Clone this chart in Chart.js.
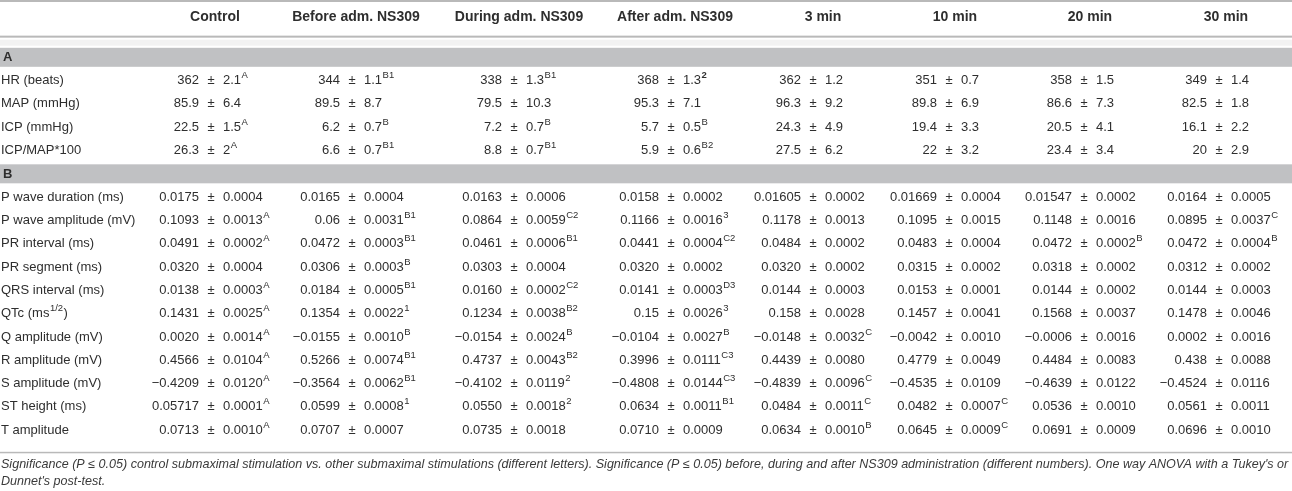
<!DOCTYPE html>
<html>
<head>
<meta charset="utf-8">
<script src="https://cdn.jsdelivr.net/npm/chart.js@4.4.1/dist/chart.umd.min.js"></script>
<style>
  html, body { margin: 0; padding: 0; background: #fff; }
  #wrap { width: 1292px; height: 491px; position: relative; }
</style>
</head>
<body>
<div id="wrap"><canvas id="tableChart"></canvas></div>
<script>
// column headers
const columns = ['Control', 'Before adm. NS309', 'During adm. NS309', 'After adm. NS309', '3 min', '10 min', '20 min', '30 min'];

// section A
const rowsA = ['HR (beats)', 'MAP (mmHg)', 'ICP (mmHg)', 'ICP/MAP*100'];
const meanA = [
  ['362', '344', '338', '368', '362', '351', '358', '349'],
  ['85.9', '89.5', '79.5', '95.3', '96.3', '89.8', '86.6', '82.5'],
  ['22.5', '6.2', '7.2', '5.7', '24.3', '19.4', '20.5', '16.1'],
  ['26.3', '6.6', '8.8', '5.9', '27.5', '22', '23.4', '20']
];
const semA = [
  ['2.1', '1.1', '1.3', '1.3', '1.2', '0.7', '1.5', '1.4'],
  ['6.4', '8.7', '10.3', '7.1', '9.2', '6.9', '7.3', '1.8'],
  ['1.5', '0.7', '0.7', '0.5', '4.9', '3.3', '4.1', '2.2'],
  ['2', '0.7', '0.7', '0.6', '6.2', '3.2', '3.4', '2.9']
];
// superscripts, a leading * means bold
const supA = [
  ['A', 'B1', 'B1', '*2', '', '', '', ''],
  ['', '', '', '', '', '', '', ''],
  ['A', 'B', 'B', 'B', '', '', '', ''],
  ['A', 'B1', 'B1', 'B2', '', '', '', '']
];

// section B
const rowsB = ['P wave duration (ms)', 'P wave amplitude (mV)', 'PR interval (ms)', 'PR segment (ms)',
  'QRS interval (ms)', 'QTc (ms^1/2)', 'Q amplitude (mV)', 'R amplitude (mV)', 'S amplitude (mV)',
  'ST height (ms)', 'T amplitude'];
const meanB = [
  ['0.0175', '0.0165', '0.0163', '0.0158', '0.01605', '0.01669', '0.01547', '0.0164'],
  ['0.1093', '0.06', '0.0864', '0.1166', '0.1178', '0.1095', '0.1148', '0.0895'],
  ['0.0491', '0.0472', '0.0461', '0.0441', '0.0484', '0.0483', '0.0472', '0.0472'],
  ['0.0320', '0.0306', '0.0303', '0.0320', '0.0320', '0.0315', '0.0318', '0.0312'],
  ['0.0138', '0.0184', '0.0160', '0.0141', '0.0144', '0.0153', '0.0144', '0.0144'],
  ['0.1431', '0.1354', '0.1234', '0.15', '0.158', '0.1457', '0.1568', '0.1478'],
  ['0.0020', '−0.0155', '−0.0154', '−0.0104', '−0.0148', '−0.0042', '−0.0006', '0.0002'],
  ['0.4566', '0.5266', '0.4737', '0.3996', '0.4439', '0.4779', '0.4484', '0.438'],
  ['−0.4209', '−0.3564', '−0.4102', '−0.4808', '−0.4839', '−0.4535', '−0.4639', '−0.4524'],
  ['0.05717', '0.0599', '0.0550', '0.0634', '0.0484', '0.0482', '0.0536', '0.0561'],
  ['0.0713', '0.0707', '0.0735', '0.0710', '0.0634', '0.0645', '0.0691', '0.0696']
];
const semB = [
  ['0.0004', '0.0004', '0.0006', '0.0002', '0.0002', '0.0004', '0.0002', '0.0005'],
  ['0.0013', '0.0031', '0.0059', '0.0016', '0.0013', '0.0015', '0.0016', '0.0037'],
  ['0.0002', '0.0003', '0.0006', '0.0004', '0.0002', '0.0004', '0.0002', '0.0004'],
  ['0.0004', '0.0003', '0.0004', '0.0002', '0.0002', '0.0002', '0.0002', '0.0002'],
  ['0.0003', '0.0005', '0.0002', '0.0003', '0.0003', '0.0001', '0.0002', '0.0003'],
  ['0.0025', '0.0022', '0.0038', '0.0026', '0.0028', '0.0041', '0.0037', '0.0046'],
  ['0.0014', '0.0010', '0.0024', '0.0027', '0.0032', '0.0010', '0.0016', '0.0016'],
  ['0.0104', '0.0074', '0.0043', '0.0111', '0.0080', '0.0049', '0.0083', '0.0088'],
  ['0.0120', '0.0062', '0.0119', '0.0144', '0.0096', '0.0109', '0.0122', '0.0116'],
  ['0.0001', '0.0008', '0.0018', '0.0011', '0.0011', '0.0007', '0.0010', '0.0011'],
  ['0.0010', '0.0007', '0.0018', '0.0009', '0.0010', '0.0009', '0.0009', '0.0010']
];
const supB = [
  ['', '', '', '', '', '', '', ''],
  ['A', 'B1', 'C2', '3', '', '', '', 'C'],
  ['A', 'B1', 'B1', 'C2', '', '', 'B', 'B'],
  ['', 'B', '', '', '', '', '', ''],
  ['A', 'B1', 'C2', 'D3', '', '', '', ''],
  ['A', '1', 'B2', '3', '', '', '', ''],
  ['A', 'B', 'B', 'B', 'C', '', '', ''],
  ['A', 'B1', 'B2', 'C3', '', '', '', ''],
  ['A', 'B1', '2', 'C3', 'C', '', '', ''],
  ['A', '1', '2', 'B1', 'C', 'C', '', ''],
  ['A', '', '', '', 'B', 'C', '', '']
];

const footnote = [
  "Significance (P ≤ 0.05) control submaximal stimulation vs. other submaximal stimulations (different letters). Significance (P ≤ 0.05) before, during and after NS309 administration (different numbers). One way ANOVA with a Tukey's or",
  "Dunnet's post-test."
];

// layout (pixels on the x scale)
const pmAnchor = [211, 352, 514, 671, 813, 949, 1084, 1219];
const headCenter = [215, 356, 519, 675, 823, 955, 1090, 1226];

const rowLabels = ['A', ...rowsA, 'B', ...rowsB];
const cells = [];
meanA.forEach((r, i) => r.forEach((m, c) => cells.push({ row: rowsA[i], col: c, mean: m, sem: semA[i][c], sup: supA[i][c] })));
meanB.forEach((r, i) => r.forEach((m, c) => cells.push({ row: rowsB[i], col: c, mean: m, sem: semB[i][c], sup: supB[i][c] })));

const FONT = '"Liberation Sans", Arial, sans-serif';
const TEXT = '#2e2e2e';
const RULE = '#b9b9b9';
const BAND = '#c0c1c3';

function drawSup(ctx, text, x, y) {
  let bold = false;
  if (text.startsWith('*')) { bold = true; text = text.slice(1); }
  ctx.font = (bold ? 'bold ' : '') + '9.5px ' + FONT;
  ctx.textAlign = 'left';
  ctx.fillText(text, x, y - 5);
}

const tablePlugin = {
  id: 'tablePlugin',
  beforeDraw(chart) {
    const { ctx, scales: { x, y } } = chart;
    const W = chart.width;
    ctx.save();
    ctx.fillStyle = '#fff';
    ctx.fillRect(0, 0, W, chart.height);
    // bands for the section rows
    ['A', 'B'].forEach(lbl => {
      const py = y.getPixelForValue(rowLabels.indexOf(lbl));
      ctx.fillStyle = BAND;
      ctx.fillRect(0, py - 9.5, W, 19);
    });
    // rules
    const top = chart.chartArea.top;
    ctx.fillStyle = RULE;
    ctx.fillRect(0, 0, W, 2);
    ctx.fillRect(0, top - 10, W, 2);
    ctx.fillStyle = '#f2f2f2';
    ctx.fillRect(0, top - 6, W, 6);
    ctx.fillStyle = RULE;
    ctx.fillRect(0, chart.chartArea.bottom + 10, W, 1.5);
    ctx.restore();
  },
  afterDraw(chart) {
    const { ctx, chartArea, scales: { x, y } } = chart;
    ctx.save();
    ctx.fillStyle = TEXT;
    ctx.textBaseline = 'middle';

    // header
    ctx.font = 'bold 14px ' + FONT;
    ctx.textAlign = 'center';
    columns.forEach((c, i) => ctx.fillText(c, x.getPixelForValue(headCenter[i]), chartArea.top - 28.5));

    // row labels
    rowLabels.forEach((lbl, i) => {
      const py = y.getPixelForValue(i);
      ctx.textAlign = 'left';
      if (lbl === 'A' || lbl === 'B') {
        ctx.font = 'bold 13px ' + FONT;
        ctx.fillText(lbl, 3, py + 0.5);
        return;
      }
      ctx.font = '13px ' + FONT;
      const parts = lbl.split('^');
      if (parts.length === 1) {
        ctx.fillText(lbl, 1, py);
      } else {
        const sp = parts[1].indexOf(')');
        const head = parts[0], sup = parts[1].slice(0, sp), tail = parts[1].slice(sp);
        ctx.fillText(head, 1, py);
        let px = 1 + ctx.measureText(head).width;
        ctx.font = '9.5px ' + FONT;
        ctx.fillText(sup, px + 0.5, py - 5);
        px += ctx.measureText(sup).width + 1;
        ctx.font = '13px ' + FONT;
        ctx.fillText(tail, px, py);
      }
    });

    // cells, aligned on the ± sign
    const gap = 12;
    cells.forEach(cell => {
      const px = x.getPixelForValue(pmAnchor[cell.col]);
      const py = y.getPixelForValue(rowLabels.indexOf(cell.row));
      ctx.font = '13px ' + FONT;
      ctx.textAlign = 'right';
      ctx.fillText(cell.mean, px - gap, py);
      ctx.textAlign = 'center';
      ctx.fillText('±', px, py);
      ctx.textAlign = 'left';
      ctx.fillText(cell.sem, px + gap, py);
      if (cell.sup) {
        const w = ctx.measureText(cell.sem).width;
        drawSup(ctx, cell.sup, px + gap + w + 0.5, py);
      }
    });

    // footnote
    ctx.fillStyle = '#3a3a3a';
    ctx.textAlign = 'left';
    ctx.font = 'italic 12px ' + FONT;
    const full = ctx.measureText(footnote[0]).width;
    const size = Math.min(13, 12 * 1289 / full);
    ctx.font = 'italic ' + size.toFixed(2) + 'px ' + FONT;
    ctx.fillText(footnote[0], 1, chartArea.bottom + 23, 1290);
    ctx.fillText(footnote[1], 1, chartArea.bottom + 39.5);
    ctx.restore();
  }
};

const ctx = document.getElementById('tableChart').getContext('2d');
const myChart = new Chart(ctx, {
  type: 'scatter',
  data: { datasets: [{ data: [], pointRadius: 0 }] },
  options: {
    responsive: true,
    maintainAspectRatio: false,
    animation: false,
    events: [],
    layout: { padding: { top: 45.65, bottom: 49.2, left: 0, right: 0 } },
    plugins: { legend: { display: false }, tooltip: { enabled: false } },
    scales: {
      x: { type: 'linear', min: 0, max: 1292, display: false },
      y: { type: 'category', labels: rowLabels, offset: true, display: false }
    }
  },
  plugins: [tablePlugin]
});
</script>
</body>
</html>
